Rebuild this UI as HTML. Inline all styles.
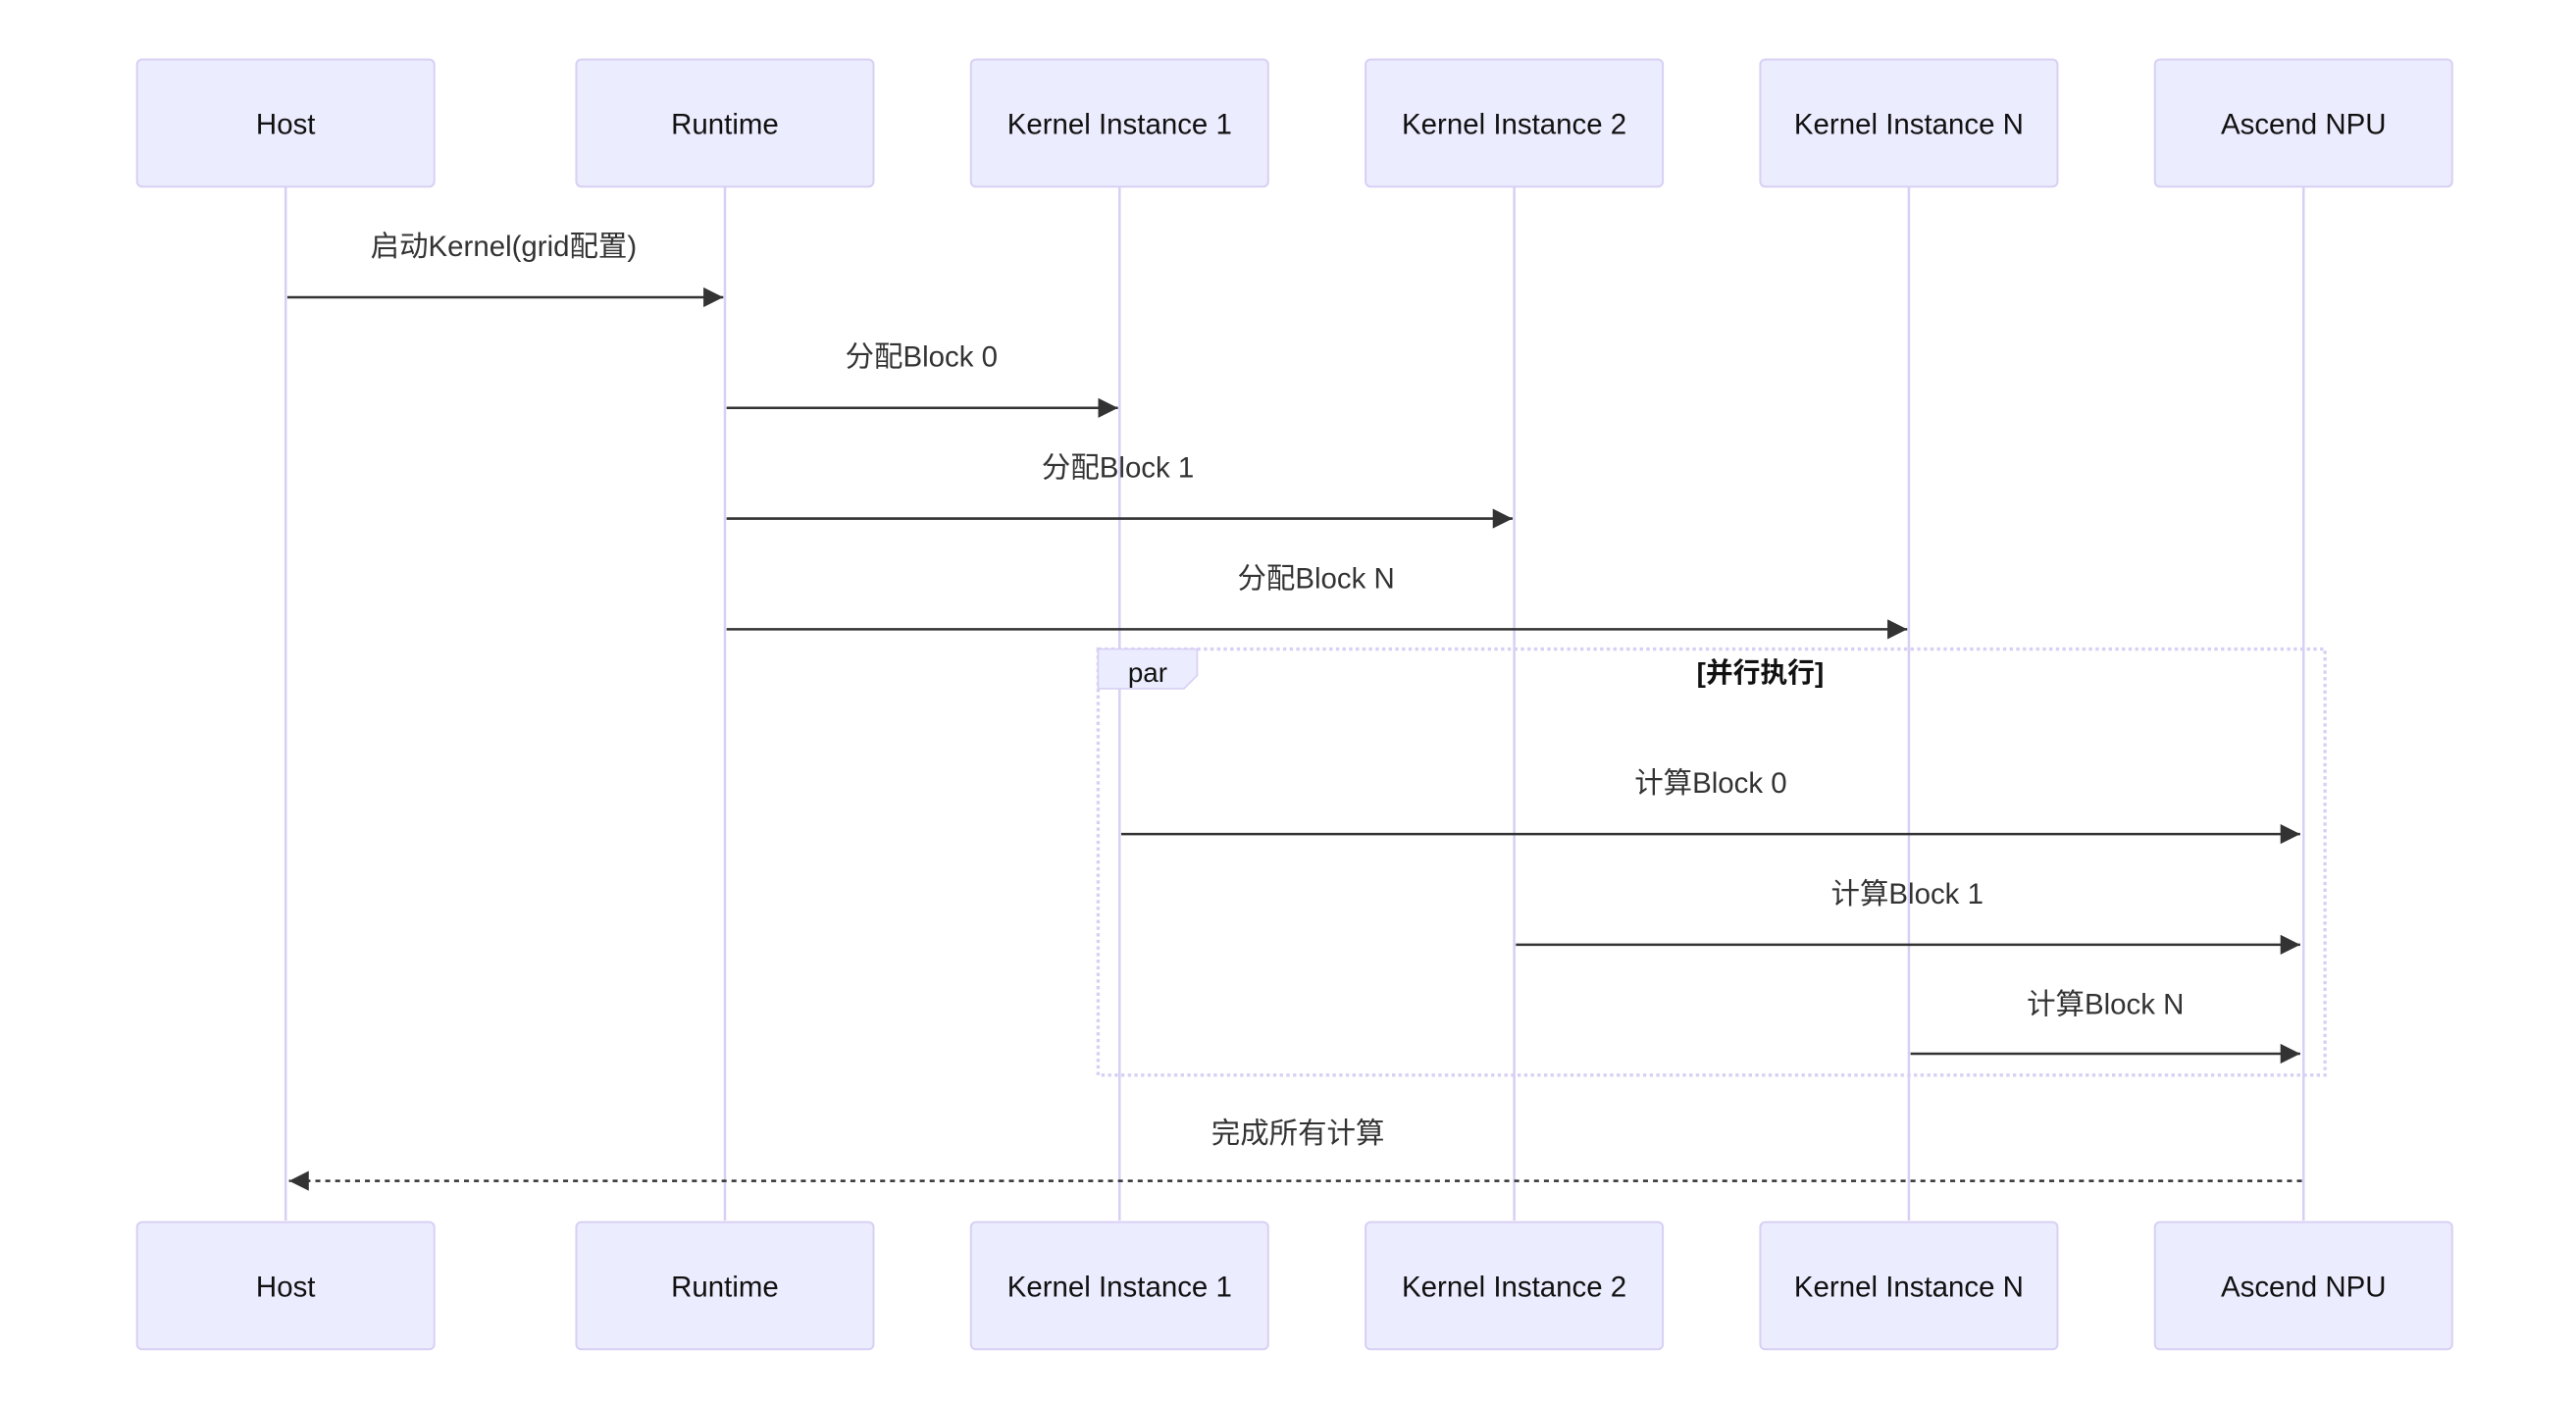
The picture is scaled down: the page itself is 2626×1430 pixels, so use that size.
<!DOCTYPE html>
<html><head><meta charset="utf-8"><style>
html,body{margin:0;padding:0;background:#fff;}
svg{display:block;}
text{font-family:"Liberation Sans","Noto Sans CJK SC",sans-serif;}
</style></head><body>
<svg width="2626" height="1430" viewBox="0 0 1560 849.5" xmlns="http://www.w3.org/2000/svg">
<defs><marker id="a" viewBox="0 0 12 12" refX="12" refY="6" markerWidth="12" markerHeight="12" markerUnits="userSpaceOnUse" orient="auto"><path d="M0,0 L12,6 L0,12 z" fill="#333"/></marker></defs>
<g stroke="#d8d0f4" stroke-width="1.5">
<line x1="173" y1="113" x2="173" y2="739"/><line x1="439" y1="113" x2="439" y2="739"/><line x1="678" y1="113" x2="678" y2="739"/><line x1="917" y1="113" x2="917" y2="739"/><line x1="1156" y1="113" x2="1156" y2="739"/><line x1="1395" y1="113" x2="1395" y2="739"/>
</g>
<g fill="#ececff" stroke="#d8d0f4" stroke-width="1.2">
<rect x="83" y="36" width="180" height="77" rx="3"/><rect x="349" y="36" width="180" height="77" rx="3"/><rect x="588" y="36" width="180" height="77" rx="3"/><rect x="827" y="36" width="180" height="77" rx="3"/><rect x="1066" y="36" width="180" height="77" rx="3"/><rect x="1305" y="36" width="180" height="77" rx="3"/>
<rect x="83" y="740" width="180" height="77" rx="3"/><rect x="349" y="740" width="180" height="77" rx="3"/><rect x="588" y="740" width="180" height="77" rx="3"/><rect x="827" y="740" width="180" height="77" rx="3"/><rect x="1066" y="740" width="180" height="77" rx="3"/><rect x="1305" y="740" width="180" height="77" rx="3"/>
</g>
<g font-size="17.5" text-anchor="middle" fill="#111">
<text x="173" y="81">Host</text><text x="439" y="81">Runtime</text><text x="678" y="81">Kernel Instance 1</text><text x="917" y="81">Kernel Instance 2</text><text x="1156" y="81">Kernel Instance N</text><text x="1395" y="81">Ascend NPU</text>
<text x="173" y="785">Host</text><text x="439" y="785">Runtime</text><text x="678" y="785">Kernel Instance 1</text><text x="917" y="785">Kernel Instance 2</text><text x="1156" y="785">Kernel Instance N</text><text x="1395" y="785">Ascend NPU</text>
</g>
<rect x="665" y="393" width="743" height="258" fill="none" stroke="#d8d0f4" stroke-width="2" stroke-dasharray="2,2"/>
<path d="M665,393 L725,393 L725,409 L717,417 L665,417 z" fill="#ececff" stroke="#d8d0f4" stroke-width="1"/>
<text x="695" y="413" font-size="16.5" text-anchor="middle" fill="#111">par</text>
<text x="1066" y="413" font-size="16.5" text-anchor="middle" fill="#111" font-weight="bold">[并行执行]</text>
<g stroke="#333" stroke-width="1.5" marker-end="url(#a)">
<line x1="174" y1="180" x2="438" y2="180"/>
<line x1="440" y1="247" x2="677" y2="247"/>
<line x1="440" y1="314" x2="916" y2="314"/>
<line x1="440" y1="381" x2="1155" y2="381"/>
<line x1="679" y1="505" x2="1393" y2="505"/>
<line x1="918" y1="572" x2="1393" y2="572"/>
<line x1="1157" y1="638" x2="1393" y2="638"/>
<line x1="1394" y1="715" x2="175" y2="715" stroke-dasharray="3,3"/>
</g>
<g font-size="17.5" text-anchor="middle" fill="#333">
<text x="305" y="155">启动Kernel(grid配置)</text>
<text x="558" y="222">分配Block 0</text>
<text x="677" y="289">分配Block 1</text>
<text x="797" y="356">分配Block N</text>
<text x="1036" y="480">计算Block 0</text>
<text x="1155" y="547">计算Block 1</text>
<text x="1275" y="614">计算Block N</text>
<text x="786" y="692">完成所有计算</text>
</g>
</svg>
</body></html>
